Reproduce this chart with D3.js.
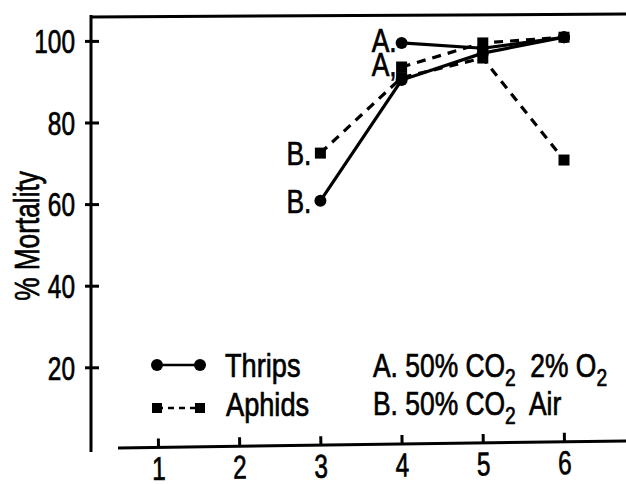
<!DOCTYPE html>
<html>
<head>
<meta charset="utf-8">
<script src="https://cdn.jsdelivr.net/npm/d3@7"></script>
<style>
body { margin:0; background:#fff; }
text { font-family:"Liberation Sans",Arial,sans-serif; fill:#000; stroke:#000; stroke-width:0.7px; }
</style>
</head>
<body>
<div id="chart"></div>
<script>
// width and height
var w = 626;
var h = 484;

// data
var xTicks = [1, 2, 3, 4, 5, 6];
var yTicks = [20, 40, 60, 80, 100];

var thripsA_x = [4, 5, 6];
var thripsA_y = [99.5, 98.2, 100.9];
var thripsB_x = [3, 4, 5, 6];
var thripsB_y = [60.8, 90.4, 97, 100.9];
var aphidsA_x = [4, 5, 6];
var aphidsA_y = [93.6, 99.5, 100.9];
var aphidsB_x = [3, 4, 5, 6];
var aphidsB_y = [72.5, 91, 95.8, 70.8];

// the original type is a condensed face, squeeze a normal one
var numSqueeze = 0.74;
var txtSqueeze = 0.8;

var x = d3.scaleLinear().domain([1, 6]).range([158, 564]);
var y = d3.scaleLinear().domain([0, 100]).range([448.9, 40.9]);

var svg = d3.select("#chart")
            .append("svg")
            .attr("width", w)
            .attr("height", h);

function addText(g, tx, ty, size, anchor){
    return g.append("text")
        .attr("transform", "translate(" + tx + "," + ty + ") scale(" + txtSqueeze + ",1)")
        .attr("text-anchor", anchor || "start")
        .style("font-size", size + "px");
}

// frame top line
svg.append("line")
    .attr("x1", 90).attr("y1", 17)
    .attr("x2", 626).attr("y2", 14)
    .attr("stroke", "#000").attr("stroke-width", 3);

// y axis
var yAxis = svg.append("g")
    .attr("transform", "translate(91,0)")
    .call(d3.axisLeft(y).tickValues(yTicks).tickSizeOuter(0));
yAxis.select(".domain").remove();
yAxis.append("line")
    .attr("x1", 0).attr("y1", 15)
    .attr("x2", 0).attr("y2", 452)
    .attr("stroke", "#000").attr("stroke-width", 3);
yAxis.selectAll(".tick line")
    .attr("x1", -6).attr("x2", 8)
    .attr("stroke-width", 3);
yAxis.selectAll(".tick text")
    .style("font-size", "33px")
    .attr("x", -16 / numSqueeze)
    .attr("dy", "0.36em")
    .attr("transform", "scale(" + numSqueeze + ",1)");

// x axis, the scan is slightly tilted
var xAxis = svg.append("g")
    .attr("transform", "translate(0,448) rotate(-0.8,118,0)")
    .call(d3.axisBottom(x).tickValues(xTicks).tickFormat(d3.format("d"))
        .tickSizeInner(-9).tickSizeOuter(0).tickPadding(9));
xAxis.select(".domain").remove();
xAxis.append("line")
    .attr("x1", 118).attr("y1", 0)
    .attr("x2", 640).attr("y2", 0)
    .attr("stroke", "#000").attr("stroke-width", 3);
xAxis.selectAll(".tick line").attr("stroke-width", 3);
xAxis.selectAll(".tick text")
    .style("font-size", "33px")
    .attr("transform", "scale(" + numSqueeze + ",1)");

// axis title
svg.append("text")
    .attr("transform", "translate(39,236) rotate(-90) scale(0.75,1)")
    .attr("text-anchor", "middle")
    .style("font-size", "35px")
    .text("% Mortality");

var line = d3.line()
    .x(function(d){ return x(d[0]); })
    .y(function(d){ return y(d[1]); });

var series = [
    {xs: aphidsB_x, ys: aphidsB_y, dash: "9,7", mark: "square", label: "B."},
    {xs: aphidsA_x, ys: aphidsA_y, dash: "9,7", mark: "square", label: "A,"},
    {xs: thripsB_x, ys: thripsB_y, dash: null, mark: "circle", label: "B."},
    {xs: thripsA_x, ys: thripsA_y, dash: null, mark: "circle", label: "A."}
];

series.forEach(function(s){
    var pts = s.xs.map(function(v, i){ return [v, s.ys[i]]; });
    svg.append("path")
        .attr("d", line(pts))
        .attr("fill", "none")
        .attr("stroke", "#000")
        .attr("stroke-width", 3.2)
        .attr("stroke-dasharray", s.dash);
    if (s.mark == "circle") {
        svg.selectAll(null).data(pts).enter()
            .append("circle")
            .attr("cx", function(d){ return x(d[0]); })
            .attr("cy", function(d){ return y(d[1]); })
            .attr("r", 6);
    } else {
        svg.selectAll(null).data(pts).enter()
            .append("rect")
            .attr("x", function(d){ return x(d[0]) - 5.5; })
            .attr("y", function(d){ return y(d[1]) - 5.5; })
            .attr("width", 11).attr("height", 11);
    }
    var first = pts[0];
    var isA = s.label.charAt(0) == "A";
    addText(svg, x(first[0]) - (isA ? 5 : 9), y(first[1]) + (isA ? 9 : 12), 33, "end")
        .text(s.label);
});

// legend
var lg = svg.append("g");
lg.append("line")
    .attr("x1", 157).attr("y1", 365).attr("x2", 200).attr("y2", 365)
    .attr("stroke", "#000").attr("stroke-width", 2.5);
lg.selectAll(null).data([157, 200]).enter()
    .append("circle")
    .attr("cx", function(d){ return d; }).attr("cy", 365).attr("r", 6);
lg.append("line")
    .attr("x1", 157).attr("y1", 408).attr("x2", 200).attr("y2", 408)
    .attr("stroke", "#000").attr("stroke-width", 2.5)
    .attr("stroke-dasharray", "6,5");
lg.selectAll(null).data([157, 200]).enter()
    .append("rect")
    .attr("x", function(d){ return d - 5; }).attr("y", 403)
    .attr("width", 10).attr("height", 10);
addText(lg, 225, 377, 34).text("Thrips");
addText(lg, 226, 416, 34).text("Aphids");

var t1 = addText(lg, 373, 377, 33);
t1.append("tspan").text("A. 50% CO");
t1.append("tspan").attr("dy", 9).style("font-size", "24px").text("2");
t1.append("tspan").attr("dy", -9).text("\u00a0 2% O");
t1.append("tspan").attr("dy", 9).style("font-size", "24px").text("2");

var t2 = addText(lg, 373, 415, 33);
t2.append("tspan").text("B. 50% CO");
t2.append("tspan").attr("dy", 9).style("font-size", "24px").text("2");
t2.append("tspan").attr("dy", -9).text("\u00a0 Air");
</script>
</body>
</html>
